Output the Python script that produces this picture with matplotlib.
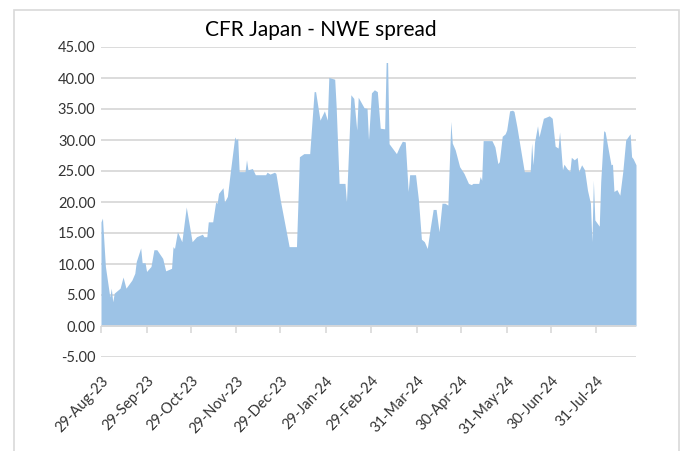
import pandas as pd
import matplotlib
matplotlib.use("Agg")
import matplotlib.pyplot as plt
import matplotlib.dates as mdates
from matplotlib.patches import Rectangle

plt.rcParams['font.family'] = ['Lato', 'DejaVu Sans']

# Valeurs (USD/t)
dates = [
    "2023-08-29", "2023-08-30", "2023-09-01", "2023-09-04", "2023-09-05", "2023-09-06",
    "2023-09-07", "2023-09-11", "2023-09-13", "2023-09-15", "2023-09-19", "2023-09-21",
    "2023-09-22", "2023-09-25", "2023-09-26", "2023-09-28", "2023-09-29", "2023-10-02",
    "2023-10-04", "2023-10-06", "2023-10-10", "2023-10-12", "2023-10-16", "2023-10-17",
    "2023-10-18", "2023-10-20", "2023-10-23", "2023-10-26", "2023-10-30", "2023-11-02",
    "2023-11-06", "2023-11-07", "2023-11-09", "2023-11-10", "2023-11-13", "2023-11-15",
    "2023-11-16", "2023-11-17", "2023-11-20", "2023-11-21", "2023-11-23", "2023-11-25",
    "2023-11-28", "2023-11-29", "2023-11-30", "2023-12-01", "2023-12-05", "2023-12-06",
    "2023-12-07", "2023-12-10", "2023-12-12", "2023-12-19", "2023-12-20", "2023-12-22",
    "2023-12-25", "2023-12-26", "2023-12-29", "2024-01-04", "2024-01-09", "2024-01-11",
    "2024-01-14", "2024-01-18", "2024-01-21", "2024-01-22", "2024-01-25", "2024-01-28",
    "2024-01-30", "2024-01-31", "2024-02-04", "2024-02-05", "2024-02-07", "2024-02-11",
    "2024-02-12", "2024-02-15", "2024-02-17", "2024-02-19", "2024-02-20", "2024-02-24",
    "2024-02-26", "2024-02-27", "2024-02-29", "2024-03-02", "2024-03-04", "2024-03-06",
    "2024-03-09", "2024-03-10", "2024-03-11", "2024-03-12", "2024-03-17", "2024-03-19",
    "2024-03-21", "2024-03-23", "2024-03-25", "2024-03-26", "2024-03-30", "2024-04-01",
    "2024-04-03", "2024-04-05", "2024-04-07", "2024-04-09", "2024-04-11", "2024-04-13",
    "2024-04-15", "2024-04-17", "2024-04-19", "2024-04-21", "2024-04-23", "2024-04-24",
    "2024-04-26", "2024-04-29", "2024-05-02", "2024-05-05", "2024-05-07", "2024-05-08",
    "2024-05-12", "2024-05-13", "2024-05-14", "2024-05-15", "2024-05-21", "2024-05-23",
    "2024-05-25", "2024-05-26", "2024-05-28", "2024-05-30", "2024-05-31", "2024-06-02",
    "2024-06-04", "2024-06-05", "2024-06-07", "2024-06-09", "2024-06-12", "2024-06-16",
    "2024-06-17", "2024-06-18", "2024-06-19", "2024-06-21", "2024-06-22", "2024-06-25",
    "2024-06-27", "2024-06-29", "2024-07-01", "2024-07-03", "2024-07-05", "2024-07-06",
    "2024-07-08", "2024-07-09", "2024-07-11", "2024-07-13", "2024-07-14", "2024-07-16",
    "2024-07-18", "2024-07-19", "2024-07-21", "2024-07-23", "2024-07-25", "2024-07-27",
    "2024-07-28", "2024-07-29", "2024-07-30", "2024-08-02", "2024-08-03", "2024-08-05",
    "2024-08-06", "2024-08-09", "2024-08-10", "2024-08-11", "2024-08-12", "2024-08-14",
    "2024-08-16", "2024-08-18", "2024-08-20", "2024-08-23", "2024-08-24", "2024-08-25",
    "2024-08-27",
]
spread = [
    16.8, 17.4, 9.6, 4.7, 6.1, 3.9,
    5.3, 6.1, 7.9, 6.1, 7.4, 8.5,
    10.4, 12.6, 10.2, 10.2, 8.8, 9.6,
    12.3, 12.3, 10.9, 8.9, 9.3, 12.8,
    12.5, 15.2, 13.6, 19.2, 13.6, 14.4,
    14.8, 14.4, 14.4, 16.8, 16.8, 20.0,
    19.8, 21.4, 22.3, 20.0, 20.9, 24.9,
    30.5, 30.0, 30.3, 24.9, 24.9, 26.8,
    25.2, 25.4, 24.4, 24.4, 24.8, 24.5,
    24.8, 24.6, 20.3, 12.8, 12.8, 27.3,
    27.8, 27.8, 37.8, 37.8, 33.2, 34.7,
    33.2, 40.1, 39.8, 35.4, 23.0, 23.0,
    20.0, 37.3, 36.7, 31.6, 36.9, 35.2,
    35.1, 30.0, 37.6, 38.1, 37.8, 31.9,
    31.8, 42.5, 42.5, 29.4, 27.8, 28.9,
    29.8, 29.7, 21.7, 24.4, 24.4, 20.3,
    14.0, 13.6, 12.5, 15.8, 18.8, 18.8,
    15.2, 19.8, 19.8, 19.5, 33.0, 29.5,
    28.4, 25.7, 24.6, 23.0, 22.8, 23.0,
    23.0, 24.1, 23.5, 29.9, 29.9, 28.9,
    26.2, 26.5, 30.6, 31.0, 31.6, 34.7,
    34.8, 34.6, 32.1, 29.2, 24.9, 24.9,
    29.5, 26.0, 29.7, 32.3, 30.5, 33.5,
    33.7, 33.9, 33.5, 29.0, 28.7, 31.3,
    25.2, 26.1, 25.4, 24.9, 27.2, 26.8,
    27.2, 24.9, 26.0, 25.2, 21.9, 19.8,
    13.6, 23.5, 17.1, 16.1, 23.3, 31.5,
    31.3, 27.3, 26.0, 26.1, 21.7, 22.0,
    21.1, 24.9, 30.0, 31.0, 27.3, 27.0,
    26.0,
]
tick_dates = [
    "2023-08-29", "2023-09-29", "2023-10-29", "2023-11-29", "2023-12-29", "2024-01-29",
    "2024-02-29", "2024-03-31", "2024-04-30", "2024-05-31", "2024-06-30", "2024-07-31",
]
y_ticks = [-5, 0, 5, 10, 15, 20, 25, 30, 35, 40, 45]

x = pd.to_datetime(dates)
ticks = pd.to_datetime(tick_dates)

W, H = 683, 451
fig = plt.figure(figsize=(W / 100, H / 100), dpi=100)
ax = fig.add_axes([101 / W, 1 - 357 / H, (636 - 101) / W, (357 - 47) / H])

grid_col = "#d9d9d9"
text_col = "#333333"

ax.fill_between(x, 0, spread, color="#9dc3e6", linewidth=0, zorder=2)

ax.set_ylim(-5, 45)
ax.set_xlim(x[0], x[-1])
ax.set_yticks(y_ticks)
ax.yaxis.set_major_formatter(plt.FuncFormatter(lambda v, p: f"{v:.2f}"))
ax.grid(axis="y", color=grid_col, linewidth=1.3, zorder=1)
ax.axhline(0, color=grid_col, linewidth=1.3, zorder=3)

for s in ax.spines.values():
    s.set_visible(False)

ax.tick_params(axis="y", length=0, pad=4, labelsize=10.5, labelcolor=text_col)
ax.set_xticks(ticks)
ax.xaxis.set_major_formatter(mdates.DateFormatter("%d-%b-%y"))
ax.tick_params(axis="x", length=0, pad=12, labelsize=10.5, labelcolor=text_col)
for lab in ax.get_xticklabels():
    lab.set_rotation(47)
    lab.set_ha("right")
    lab.set_va("top")
    lab.set_rotation_mode("anchor")

# petites graduations sur la ligne du zéro
sec = ax.secondary_xaxis(0.1)
sec.set_xticks(ticks)
sec.set_xticklabels([])
sec.tick_params(axis="x", length=5, width=1.2, color=grid_col)
sec.spines["bottom"].set_visible(False)

fig.text(321 / W, 1 - 30 / H, "CFR Japan - NWE spread", ha="center", va="center",
         fontsize=15, color="black")

# cadre de la zone graphique
fig.patches.append(Rectangle((14 / W, -0.05), (679 - 14) / W, 1 - 10 / H + 0.05,
                             transform=fig.transFigure, fill=False,
                             edgecolor=grid_col, linewidth=1.2))

fig.savefig("out.png", dpi=100)
